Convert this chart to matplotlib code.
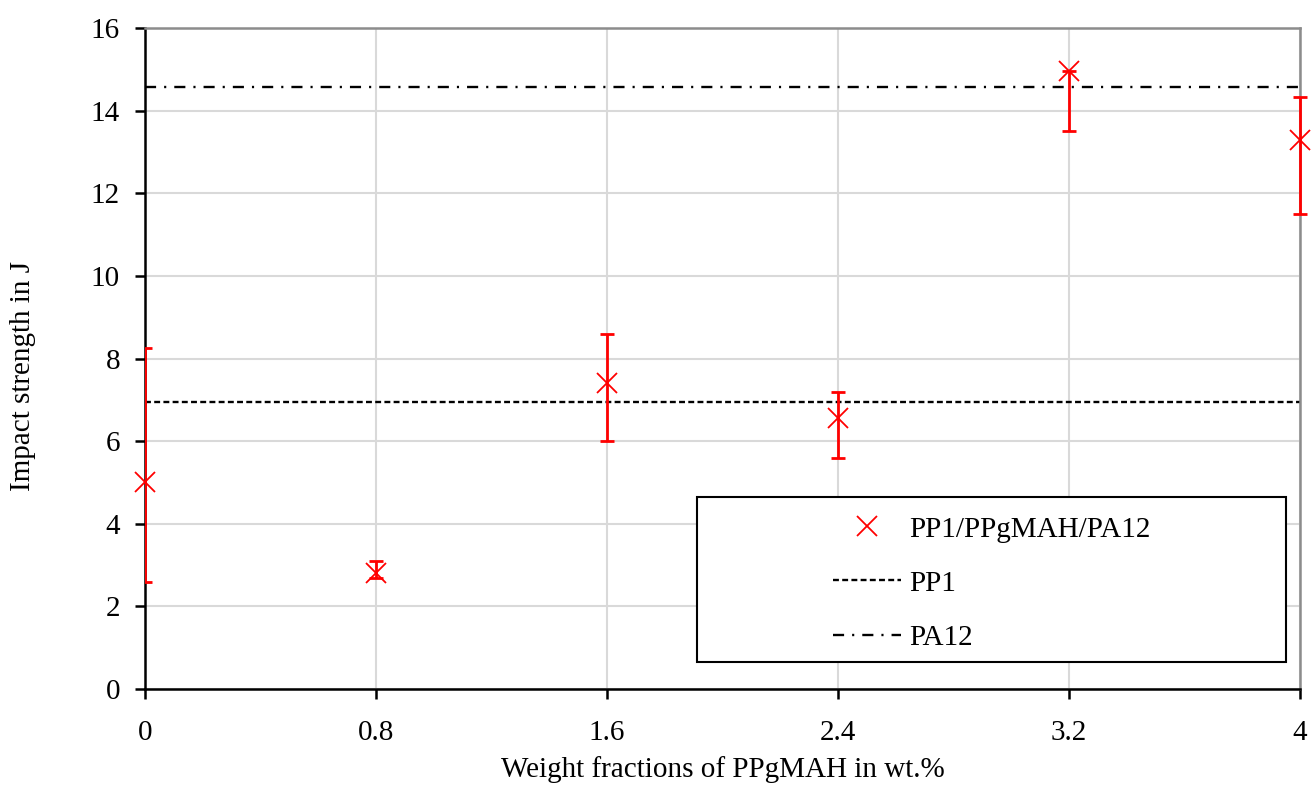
import matplotlib.pyplot as plt
from matplotlib.patches import Rectangle

# data
wt = [0, 0.8, 1.6, 2.4, 3.2, 4]
impact = [5.0, 2.8, 7.4, 6.56, 14.95, 13.28]
err_low = [2.42, 0.12, 1.4, 0.97, 1.45, 1.78]
err_high = [3.26, 0.3, 1.2, 0.63, 0.0, 1.05]
pp1_level = 6.94
pa12_level = 14.57

x_ticks = [0, 0.8, 1.6, 2.4, 3.2, 4]
x_labels = ["0", "0.8", "1.6", "2.4", "3.2", "4"]
y_ticks = [0, 2, 4, 6, 8, 10, 12, 14, 16]

plt.rcParams["font.family"] = ["Liberation Serif", "DejaVu Serif"]

fig = plt.figure(figsize=(13.15, 7.85), dpi=100)
ax = fig.add_axes([0.1103, 0.1223, 0.8783, 0.842])

ax.set_xlim(0, 4)
ax.set_ylim(0, 16)

ax.axhline(pp1_level, color="black", lw=1.7, linestyle=(0, (2.5, 1.4)), label="PP1", zorder=2)
ax.axhline(pa12_level, color="black", lw=1.7, linestyle=(0, (4.7, 3.4, 0.9, 3.4)), label="PA12", zorder=2)

# first point sits on the y axis, its error bar is clipped by the axes like in the original
ax.errorbar(wt[:1], impact[:1], yerr=[err_low[:1], err_high[:1]], fmt="none", ecolor="red",
            elinewidth=2.0, capsize=4.7, capthick=2.0, zorder=3)
eb = ax.errorbar(wt[1:], impact[1:], yerr=[err_low[1:], err_high[1:]], fmt="none", ecolor="red",
                 elinewidth=2.0, capsize=4.7, capthick=2.0, zorder=3)
for part in eb.lines[1] + eb.lines[2]:
    part.set_clip_on(False)
ax.plot(wt, impact, linestyle="none", marker="x", color="red", markersize=15,
        markeredgewidth=1.3, label="PP1/PPgMAH/PA12", clip_on=False, zorder=4)

ax.set_xticks(x_ticks)
ax.set_xticklabels(x_labels)
ax.set_yticks(y_ticks)
ax.grid(True, color="#d9d9d9", lw=1.5)
ax.set_axisbelow(True)

for side in ["left", "bottom"]:
    ax.spines[side].set_color("black")
    ax.spines[side].set_linewidth(1.8)
for side in ["top", "right"]:
    ax.spines[side].set_color("#8c8c8c")
    ax.spines[side].set_linewidth(1.8)

ax.tick_params(axis="both", direction="out", length=7, width=1.8, labelsize=21)
ax.tick_params(axis="y", pad=11)
ax.tick_params(axis="x", pad=15)

ax.set_xlabel("Weight fractions of PPgMAH in wt.%", fontsize=21)
ax.set_ylabel("Impact strength in J", fontsize=21)
ax.xaxis.set_label_coords(0.5, -0.101)
ax.yaxis.set_label_coords(-0.094, 0.4735)

handles, labels = ax.get_legend_handles_labels()
order = [2, 0, 1]
leg = ax.legend([handles[i] for i in order], [labels[i] for i in order],
                loc="center", bbox_to_anchor=(0.733, 0.1597), frameon=False,
                fontsize=21, handlelength=2.33, handletextpad=0.28,
                labelspacing=0.95, numpoints=1)

# legend frame, drawn separately so it can be wider than its contents
frame = Rectangle((0.478, 0.041), 0.51, 0.249, transform=ax.transAxes,
                  facecolor="white", edgecolor="black", lw=1.5, zorder=5)
ax.add_patch(frame)
leg.set_zorder(6)

fig.savefig("out.png", dpi=100)
